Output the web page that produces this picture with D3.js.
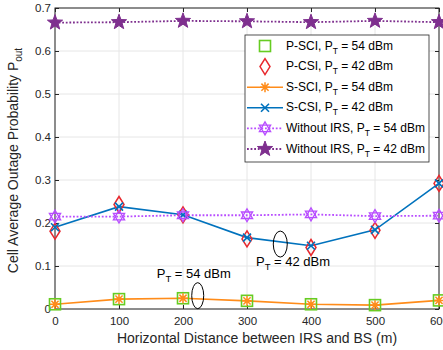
<!DOCTYPE html>
<html>
<head>
<meta charset="utf-8">
<script src="https://cdn.jsdelivr.net/npm/d3@7"></script>
<style>
  body { margin: 0; background: #fff; }
  svg { font-family: "Liberation Sans", Arial, sans-serif; }
</style>
</head>
<body>
<div id="chart"></div>
<script>
const distances = [0, 100, 200, 300, 400, 500, 600];
const pSCI54 = [0.011, 0.023, 0.025, 0.019, 0.011, 0.009, 0.020];
const pCSI42 = [0.181, 0.243, 0.219, 0.163, 0.143, 0.183, 0.292];
const sSCI54 = [0.011, 0.023, 0.025, 0.019, 0.011, 0.009, 0.020];
const sCSI42 = [0.190, 0.238, 0.219, 0.166, 0.147, 0.184, 0.292];
const noIRS54 = [0.215, 0.215, 0.218, 0.218, 0.220, 0.216, 0.217];
const noIRS42 = [0.666, 0.667, 0.670, 0.669, 0.667, 0.670, 0.667];
const yTicks = [0, 0.1, 0.2, 0.3, 0.4, 0.5, 0.6, 0.7];

const W = 443, H = 350;
const margin = { left: 55, right: 4, top: 8, bottom: 41 };
const iw = 439 - margin.left, ih = 309 - margin.top;

const svg = d3.select("#chart").append("svg")
  .attr("width", W).attr("height", H);

const g = svg.append("g")
  .attr("transform", `translate(${margin.left},${margin.top})`);

const x = d3.scaleLinear().domain([0, 600]).range([0, iw]);
const y = d3.scaleLinear().domain([0, 0.7]).range([ih, 0]);

// grid
g.append("g").selectAll("line").data(distances).join("line")
  .attr("x1", d => x(d)).attr("x2", d => x(d))
  .attr("y1", 0).attr("y2", ih)
  .attr("stroke", "#e6e6e6");
g.append("g").selectAll("line").data(yTicks).join("line")
  .attr("x1", 0).attr("x2", iw)
  .attr("y1", d => y(d)).attr("y2", d => y(d))
  .attr("stroke", "#e6e6e6");

const axisColor = "#262626";
function styleAxis(sel) {
  sel.select(".domain").remove();
  sel.selectAll("line").attr("stroke", axisColor);
  sel.selectAll("text").attr("fill", axisColor).style("font-size", "11.5px");
}

g.append("g").attr("transform", `translate(0,${ih})`)
  .call(d3.axisBottom(x).tickValues(distances).tickSize(-4).tickPadding(8))
  .call(styleAxis);
g.append("g")
  .call(d3.axisTop(x).tickValues(distances).tickSize(-4).tickFormat(""))
  .call(styleAxis);
g.append("g")
  .call(d3.axisLeft(y).tickValues(yTicks).tickSize(-4).tickPadding(4).tickFormat(d => d === 0 ? "0" : d3.format(".1f")(d)))
  .call(styleAxis);
g.append("g").attr("transform", `translate(${iw},0)`)
  .call(d3.axisRight(y).tickValues(yTicks).tickSize(-4).tickFormat(""))
  .call(styleAxis);

g.append("rect").attr("width", iw).attr("height", ih)
  .attr("fill", "none").attr("stroke", axisColor).attr("stroke-width", 1);

// markers
function marker(sel, type, color) {
  if (type === "square") {
    sel.append("rect").attr("x", -5.5).attr("y", -5.5).attr("width", 11).attr("height", 11)
      .attr("fill", "none").attr("stroke", color).attr("stroke-width", 1.6);
  } else if (type === "diamond") {
    sel.append("path").attr("d", "M0,-8L5,0L0,8L-5,0Z")
      .attr("fill", "none").attr("stroke", color).attr("stroke-width", 1.5);
  } else if (type === "asterisk") {
    sel.append("path").attr("d", "M-5,0H5M0,-5V5M-3.6,-3.6L3.6,3.6M-3.6,3.6L3.6,-3.6")
      .attr("stroke", color).attr("stroke-width", 1.5);
  } else if (type === "x") {
    sel.append("path").attr("d", "M-4,-4L4,4M-4,4L4,-4")
      .attr("stroke", color).attr("stroke-width", 1.6);
  } else if (type === "hexagram") {
    const r = 6.5;
    const t1 = [0, 1, 2].map(i => [r * Math.sin(i * 2 * Math.PI / 3), -r * Math.cos(i * 2 * Math.PI / 3)]);
    const t2 = [0, 1, 2].map(i => [r * Math.sin(i * 2 * Math.PI / 3 + Math.PI / 3), -r * Math.cos(i * 2 * Math.PI / 3 + Math.PI / 3)]);
    sel.append("path").attr("d", "M" + t1.join("L") + "Z M" + t2.join("L") + "Z")
      .attr("fill", "none").attr("stroke", color).attr("stroke-width", 1.3);
  } else if (type === "star") {
    const pts = d3.range(10).map(i => {
      const rr = i % 2 === 0 ? 8 : 3.3;
      const a = i * Math.PI / 5;
      return [rr * Math.sin(a), -rr * Math.cos(a)];
    });
    sel.append("path").attr("d", "M" + pts.join("L") + "Z")
      .attr("fill", color).attr("stroke", color).attr("stroke-width", 1);
  }
}

const series = [
  { name: "P-SCI, P", sub: "T", rest: " = 54 dBm", values: pSCI54, color: "#66cc22", line: false, marker: "square" },
  { name: "P-CSI, P", sub: "T", rest: " = 42 dBm", values: pCSI42, color: "#e8282e", line: false, marker: "diamond" },
  { name: "S-SCI, P", sub: "T", rest: " = 54 dBm", values: sSCI54, color: "#ff8c1a", line: "solid", marker: "asterisk" },
  { name: "S-CSI, P", sub: "T", rest: " = 42 dBm", values: sCSI42, color: "#0072bd", line: "solid", marker: "x" },
  { name: "Without IRS, P", sub: "T", rest: " = 54 dBm", values: noIRS54, color: "#b84dff", line: "dotted", marker: "hexagram" },
  { name: "Without IRS, P", sub: "T", rest: " = 42 dBm", values: noIRS42, color: "#7e2f8e", line: "dotted", marker: "star" }
];

const lineGen = d3.line().x((d, i) => x(distances[i])).y(d => y(d));

series.forEach(s => {
  if (s.line) {
    g.append("path").datum(s.values).attr("d", lineGen)
      .attr("fill", "none").attr("stroke", s.color)
      .attr("stroke-width", s.line === "solid" ? 1.6 : 1.8)
      .attr("stroke-dasharray", s.line === "dotted" ? "1.8,1.8" : null);
  }
});
series.forEach(s => {
  s.values.forEach((v, i) => {
    const m = g.append("g").attr("transform", `translate(${x(distances[i])},${y(v)})`);
    marker(m, s.marker, s.color);
  });
});

// annotations
g.append("ellipse").attr("cx", x(223)).attr("cy", y(0.031)).attr("rx", 6).attr("ry", 13)
  .attr("fill", "none").attr("stroke", "#000").attr("stroke-width", 1);
g.append("ellipse").attr("cx", x(352)).attr("cy", y(0.151)).attr("rx", 7).attr("ry", 13)
  .attr("fill", "none").attr("stroke", "#000").attr("stroke-width", 1);

function ptText(px, py, val) {
  const t = g.append("text").attr("x", px).attr("y", py)
    .attr("fill", "#000").style("font-size", "13px");
  t.append("tspan").text("P");
  t.append("tspan").attr("dy", 4).style("font-size", "9.5px").text("T");
  t.append("tspan").attr("dy", -4).text(" = " + val + " dBm");
}
ptText(x(159), y(0.072), "54");
ptText(x(314), y(0.1), "42");

// legend
const lg = svg.append("g");
lg.append("rect").attr("x", 245).attr("y", 35).attr("width", 184).attr("height", 127)
  .attr("fill", "#fff").attr("stroke", axisColor).attr("stroke-width", 0.8);
series.forEach((s, i) => {
  const cy = 46 + i * 20.6;
  if (s.line) {
    lg.append("line").attr("x1", 247).attr("x2", 283).attr("y1", cy).attr("y2", cy)
      .attr("stroke", s.color).attr("stroke-width", s.line === "solid" ? 1.6 : 1.8)
      .attr("stroke-dasharray", s.line === "dotted" ? "1.8,1.8" : null);
  }
  marker(lg.append("g").attr("transform", `translate(265,${cy})`), s.marker, s.color);
  const t = lg.append("text").attr("x", 286).attr("y", cy + 3.5)
    .attr("fill", "#000").style("font-size", "12px");
  t.append("tspan").text(s.name);
  t.append("tspan").attr("dy", 4).style("font-size", "8.5px").text(s.sub);
  t.append("tspan").attr("dy", -4).text(s.rest);
});

// axis labels
svg.append("text").attr("x", 257).attr("y", 343)
  .attr("text-anchor", "middle").attr("fill", axisColor).style("font-size", "14px")
  .text("Horizontal Distance between IRS and BS (m)");

const yl = svg.append("text")
  .attr("transform", `translate(18,${margin.top + ih / 2 + 2}) rotate(-90)`)
  .attr("text-anchor", "middle").attr("fill", axisColor).style("font-size", "14px");
yl.append("tspan").text("Cell Average Outage Probability P");
yl.append("tspan").attr("dy", 4).style("font-size", "10px").text("out");
</script>
</body>
</html>
